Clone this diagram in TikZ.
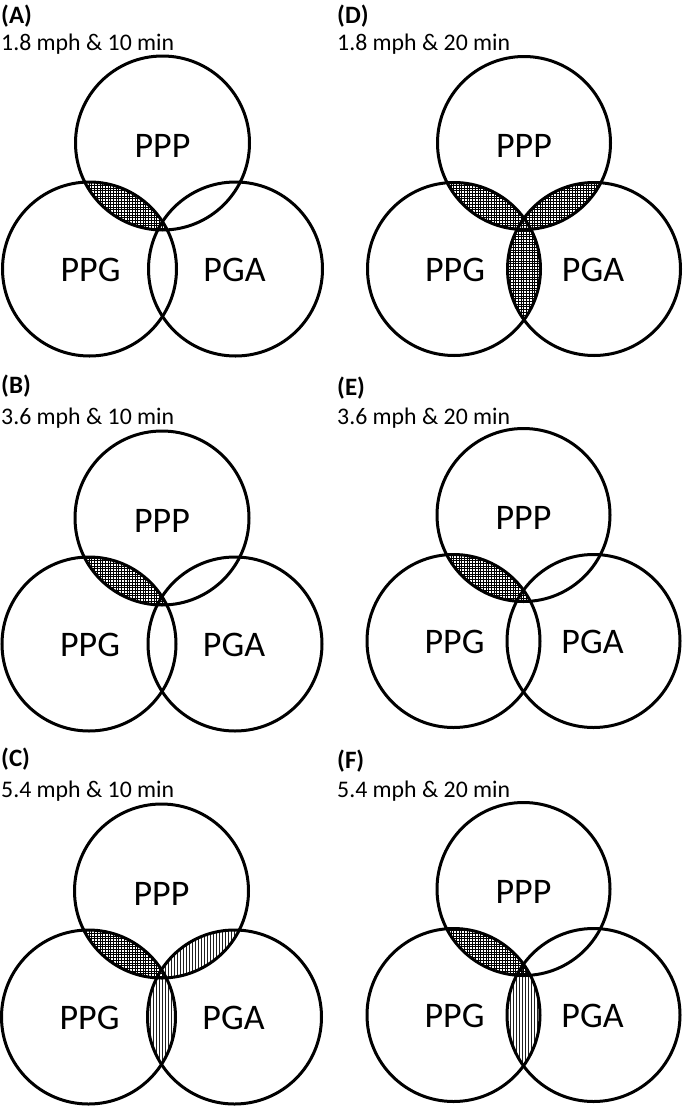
\documentclass[tikz,border=0pt]{standalone}
\usepackage{fontspec}
\setmainfont{Carlito}
\usetikzlibrary{patterns,calc}
\pgfdeclarepatternformonly{hgridpat}{\pgfqpoint{-0.6pt}{-0.6pt}}{\pgfqpoint{3pt}{3pt}}{\pgfqpoint{2.7pt}{2.7pt}}{%
  \pgfsetlinewidth{0.7pt}%
  \pgfpathmoveto{\pgfqpoint{0pt}{-0.6pt}}\pgfpathlineto{\pgfqpoint{0pt}{3pt}}%
  \pgfpathmoveto{\pgfqpoint{-0.6pt}{0pt}}\pgfpathlineto{\pgfqpoint{3pt}{0pt}}%
  \pgfusepath{stroke}}
\pgfdeclarepatternformonly{vlinepat}{\pgfqpoint{-0.6pt}{-0.6pt}}{\pgfqpoint{0.6pt}{1.2pt}}{\pgfqpoint{3pt}{1pt}}{%
  \pgfsetlinewidth{0.7pt}%
  \pgfpathmoveto{\pgfqpoint{0pt}{-0.6pt}}\pgfpathlineto{\pgfqpoint{0pt}{1.2pt}}%
  \pgfusepath{stroke}}
\tikzset{
  ring/.style={line width=3pt, draw=black},
  gridfill/.style={pattern=hgridpat, pattern color=black},
  linefill/.style={pattern=vlinepat, pattern color=black},
  nofill/.style={fill=none},
  setlabel/.style={font=\fontsize{36}{40}\selectfont, inner sep=0pt},
  panellabel/.style={font=\fontsize{25}{30}\selectfont\bfseries, anchor=base west, inner sep=0pt},
  condlabel/.style={font=\fontsize{23.8}{28}\selectfont, anchor=base west, inner sep=0pt},
}
% #1 id, #2 cx, #3 cy, #4 dx, #5 radius, #6 PPP&PPG, #7 PPP&PGA, #8 PPG&PGA
\newcommand{\vennpanel}[8]{%
  \coordinate (#1t) at (#2,#3);
  \coordinate (#1l) at ({#2-#4},{#3+126});
  \coordinate (#1r) at ({#2+#4},{#3+126});
  \begin{scope}\clip (#1t) circle[radius=#5]; \path[#6] (#1l) circle[radius=#5];\end{scope}
  \begin{scope}\clip (#1t) circle[radius=#5]; \path[#7] (#1r) circle[radius=#5];\end{scope}
  \begin{scope}\clip (#1l) circle[radius=#5]; \path[#8] (#1r) circle[radius=#5];\end{scope}
  \draw[ring] (#1t) circle[radius=#5];
  \draw[ring] (#1l) circle[radius=#5];
  \draw[ring] (#1r) circle[radius=#5];
  \node[setlabel] (#1PPP) at ($(#1t)+(0,3)$) {PPP};
  \node[setlabel] (#1PPG) at ($(#1l)+(1,1)$) {PPG};
  \node[setlabel] (#1PGA) at ($(#1r)+(-1,1)$) {PGA};
}
\begin{document}
\begin{tikzpicture}[x=1pt,y=-1pt]
\useasboundingbox (0,0) rectangle (685,1106);
\vennpanel{a}{162.5}{143}{73}{87}{gridfill}{nofill}{nofill}
\vennpanel{b}{162}{518}{73}{87}{gridfill}{nofill}{nofill}
\vennpanel{c}{161.5}{891}{73}{87}{gridfill}{linefill}{linefill}
\vennpanel{d}{524}{143}{70}{86.5}{gridfill}{gridfill}{gridfill}
\vennpanel{e}{523.5}{515}{70}{86.5}{gridfill}{nofill}{nofill}
\vennpanel{f}{523.5}{889}{70}{86.5}{gridfill}{nofill}{linefill}
\node[panellabel] (la) at (1,23) {(A)};
\node[condlabel] (sa) at (1,50) {1.8 mph \& 10 min};
\node[panellabel] (lb) at (1,393) {(B)};
\node[condlabel] (sb) at (1,424) {3.6 mph \& 10 min};
\node[panellabel] (lc) at (1,766) {(C)};
\node[condlabel] (sc) at (1,797) {5.4 mph \& 10 min};
\node[panellabel] (ld) at (337,23) {(D)};
\node[condlabel] (sd) at (337,50) {1.8 mph \& 20 min};
\node[panellabel] (le) at (337,395) {(E)};
\node[condlabel] (se) at (337,424) {3.6 mph \& 20 min};
\node[panellabel] (lf) at (337,768) {(F)};
\node[condlabel] (sf) at (337,797) {5.4 mph \& 20 min};
\end{tikzpicture}
\end{document}
